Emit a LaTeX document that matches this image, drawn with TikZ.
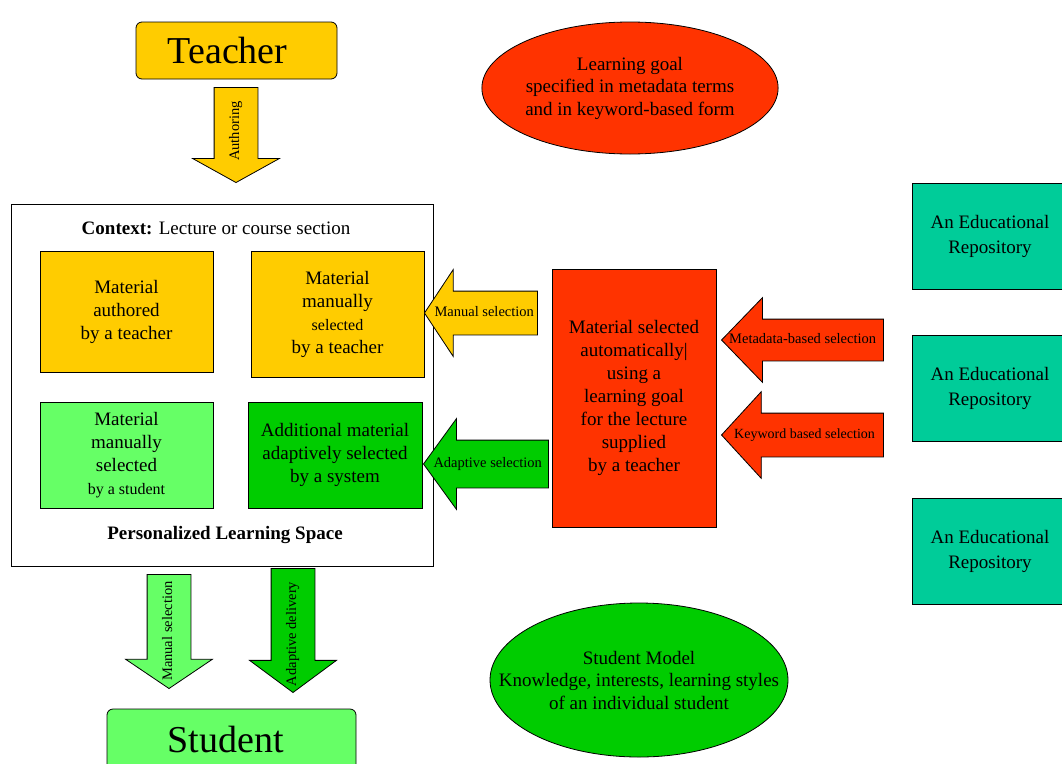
\documentclass[tikz,border=0pt]{standalone}
\usepackage{fontspec}
\setmainfont{Liberation Serif}
\usetikzlibrary{shapes.geometric, shapes.arrows}

\definecolor{gold}{HTML}{FFCC00}
\definecolor{hotred}{HTML}{FF3300}
\definecolor{palegreen}{HTML}{66FF66}
\definecolor{midgreen}{HTML}{00CC00}
\definecolor{repoteal}{HTML}{00CC99}

\tikzset{
  outline/.style={draw=black, line width=0.8pt},
  matbox/.style={outline, align=center, inner sep=2pt, font=\fontsize{19}{23}\selectfont},
  repobox/.style={outline, fill=repoteal, align=center, minimum width=156pt,
    minimum height=106pt, font=\fontsize{19}{25}\selectfont},
  rolebox/.style={outline, rounded corners=6pt, minimum width=201pt, minimum height=57pt,
    font=\fontsize{38}{42}\selectfont},
  goal/.style={outline, ellipse, inner sep=0pt, align=center, font=\fontsize{19}{22.5}\selectfont},
  blockarrow/.style={single arrow, outline, anchor=tip, inner xsep=0pt, inner ysep=15.5pt,
    text height=9pt, text depth=3pt, single arrow head extend=21.5pt, single arrow tip angle=110,
    font=\fontsize{14.5}{16}\selectfont},
  leftarrow/.style={blockarrow, shape border rotate=180},
  downarrow/.style={blockarrow, rotate=90, shape border rotate=180},
}
% label centred on the arrow, pushed towards the tip
\newcommand{\lbl}[2][10pt]{\makebox[0pt]{#2\kern#1}}

\begin{document}
\begin{tikzpicture}[x=1pt, y=-1pt]
    \useasboundingbox (0,0) rectangle (1062,763);
    \clip (0,0) rectangle (1062,763);
    \fill[white] (0,0) rectangle (1062,763);

    % Teacher and authoring
    \node[rolebox, fill=gold] (teacher) at (236.5,50.5) {\makebox[0pt]{Teacher\kern18pt}};
    \node[downarrow, fill=gold, minimum height=95pt, single arrow tip angle=122] (authoring) at (236,183) {\lbl[4pt]{Authoring}};

    % Learning goal
    \node[goal, fill=hotred, minimum width=296pt, minimum height=132pt] (goal) at (630,88)
        {Learning goal\\specified in metadata terms\\and in keyword-based form};

    % Personalized learning space
    \node[outline, fill=white, minimum width=422pt, minimum height=362pt] (space) at (222,385) {};
    \node[font=\fontsize{19}{22}\selectfont] (context) at (216,228) {\textbf{Context:} Lecture or course section};
    \node[matbox, fill=gold, minimum width=173pt, minimum height=121pt] (authored) at (126.5,311.5)
        {Material\\authored\\by a teacher};
    \node[matbox, fill=gold, minimum width=173pt, minimum height=126pt] (teachersel) at (337.5,314)
        {Material\\manually\\{\fontsize{16}{23}\selectfont selected}\\by a teacher};
    \node[matbox, fill=palegreen, minimum width=173pt, minimum height=106pt] (studentsel) at (126.5,455)
        {Material\\manually\\selected\\{\fontsize{16}{23}\selectfont by a student}};
    \node[matbox, fill=midgreen, minimum width=174pt, minimum height=106pt] (adaptive) at (335,455)
        {Additional material\\adaptively selected\\by a system};
    \node[font=\bfseries\fontsize{19}{22}\selectfont] (pls) at (225,535) {Personalized Learning Space};

    % Automatic selection
    \node[matbox, fill=hotred, minimum width=164pt, minimum height=258pt] (auto) at (634,398)
        {Material selected\\automatically|\\using a\\learning goal\\for the lecture\\supplied\\by a teacher};
    \node[leftarrow, fill=gold, minimum height=113pt, single arrow tip angle=113] (mansel) at (424,313) {\lbl[8pt]{Manual selection}};
    \node[leftarrow, fill=midgreen, minimum height=125pt, inner ysep=17.5pt, single arrow tip angle=108] (adasel) at (423,464) {\lbl[14pt]{Adaptive selection}};
    \node[leftarrow, fill=hotred, minimum height=162pt, inner ysep=14.5pt, single arrow tip angle=92] (metasel) at (721,340) {\lbl[20pt]{Metadata-based selection}};
    \node[leftarrow, fill=hotred, minimum height=162pt, single arrow tip angle=95] (keysel) at (721,435) {\lbl[16pt]{\fontsize{14}{16}\selectfont Keyword based selection}};

    % Repositories
    \node[repobox] (repo1) at (990,236) {An Educational\\Repository};
    \node[repobox] (repo2) at (990,388.5) {An Educational\\Repository};
    \node[repobox] (repo3) at (990,551) {An Educational\\Repository};

    % Delivery to the student
    \node[downarrow, fill=palegreen, minimum height=114pt, single arrow tip angle=112] (mandel) at (169,689) {\lbl[14pt]{Manual selection}};
    \node[downarrow, fill=midgreen, minimum height=124pt, single arrow tip angle=107] (adadel) at (293,693) {\lbl[23pt]{Adaptive delivery}};
    \node[rolebox, fill=palegreen, minimum width=249pt, minimum height=61pt] (student) at (231.5,739.5) {\makebox[0pt]{Student\kern12pt}};

    % Student model
    \node[goal, fill=midgreen, inner xsep=-35pt, minimum width=298pt, minimum height=154pt] (model) at (639,680)
        {Student Model\\Knowledge, interests, learning styles\\of an individual student};
\end{tikzpicture}
\end{document}
